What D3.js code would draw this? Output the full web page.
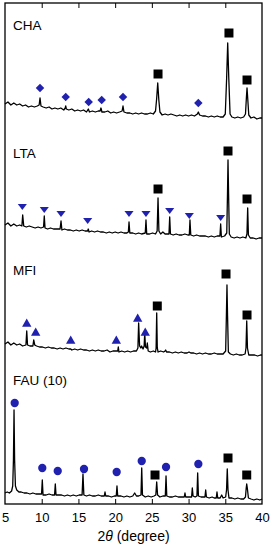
<!DOCTYPE html>
<html>
<head>
<meta charset="utf-8">
<script src="https://cdn.jsdelivr.net/npm/d3@7"></script>
<style>
  body { margin: 0; background: #fff; }
  svg { display: block; font-family: "Liberation Sans", Arial, sans-serif; }
</style>
</head>
<body>
<div id="xrd"></div>
<script>
// XRD patterns, [2theta, intensity] (arbitrary units, each pattern sits on its own offset)
const chaTrace = [[5,15],[5.4,17],[5.8,14],[6.2,16],[6.6,14],[7,15],[7.4,13],[7.8,14],[8.2,12],[8.6,13],[9,12],[9.4,13],[9.65,14],[9.77,21],[9.9,13],[10.2,12],[10.6,11],[11,12],[11.4,10],[11.8,11],[12.2,10],[12.6,11],[13.0,9],[13.2,11],[13.27,13],[13.35,10],[13.7,9],[14.1,10],[14.5,8],[14.9,9],[15.3,8],[15.7,9],[16.1,7],[16.35,10],[16.5,7],[16.9,8],[17.3,7],[17.7,8],[17.95,8],[18.07,11],[18.2,7],[18.6,7],[19,8],[19.4,6],[19.8,7],[20.2,6],[20.6,7],[20.95,8],[21.07,13],[21.2,7],[21.6,6],[22,6],[22.4,5],[22.8,6],[23.2,5],[23.6,6],[24,5],[24.4,5],[24.8,6],[25.2,5],[25.5,8],[25.65,20],[25.8,36],[25.95,19],[26.1,7],[26.4,4],[26.8,5],[27.2,4],[27.6,5],[28,4],[28.4,3],[28.8,4],[29.2,3],[29.6,4],[30,3],[30.4,4],[30.8,3],[31.2,5],[31.33,7],[31.5,4],[31.9,3],[32.3,3],[32.7,2],[33.1,3],[33.5,2],[33.9,3],[34.3,2],[34.7,2],[35.0,5],[35.18,40],[35.33,76],[35.48,40],[35.65,5],[35.9,2],[36.3,1],[36.7,2],[37.1,1],[37.5,2],[37.75,5],[37.88,22],[37.96,31],[38.06,20],[38.2,4],[38.5,1],[38.9,2],[39.3,0],[39.7,1],[40,1]];

const ltaTrace = [[5,14],[5.4,16],[5.8,13],[6.2,15],[6.6,13],[7,14],[7.3,13],[7.41,24],[7.55,13],[7.9,12],[8.3,13],[8.7,12],[9.1,11],[9.5,12],[9.9,11],[10.25,12],[10.35,23],[10.45,11],[10.8,10],[11.2,11],[11.6,10],[12,10],[12.5,10],[12.63,18],[12.75,9],[13.1,10],[13.5,9],[13.9,9],[14.3,8],[14.7,9],[15.1,8],[15.5,9],[15.9,8],[16.25,8],[16.34,10],[16.45,7],[16.8,8],[17.2,7],[17.6,8],[18,7],[18.4,7],[18.8,6],[19.2,7],[19.6,6],[20,7],[20.4,6],[20.8,7],[21.2,6],[21.6,6],[21.8,7],[21.89,17],[22,6],[22.4,6],[22.8,5],[23.2,6],[23.6,5],[24.1,6],[24.2,19],[24.3,5],[24.7,5],[25.1,6],[25.5,5],[25.72,8],[25.84,41],[25.96,8],[26.2,5],[26.5,7],[26.8,5],[27.33,5],[27.43,22],[27.53,5],[27.9,4],[28.3,5],[28.7,4],[29.1,4],[29.5,5],[29.9,4],[30.1,4],[30.19,19],[30.3,4],[30.7,3],[31.1,4],[31.5,3],[31.9,3],[32.3,3],[32.7,2],[33.1,3],[33.5,2],[33.9,3],[34.27,3],[34.37,15],[34.47,2],[34.9,3],[35.2,6],[35.3,45],[35.37,79],[35.45,45],[35.55,5],[35.8,2],[36.2,1],[36.6,2],[37,1],[37.4,2],[37.8,1],[37.95,5],[38.05,31],[38.15,4],[38.4,1],[38.8,1],[39.2,0],[39.6,1],[40,1]];

const mfiTrace = [[5,12],[5.4,14],[5.8,11],[6.2,13],[6.6,11],[7,12],[7.4,10],[7.85,11],[7.96,25],[8.07,11],[8.4,10],[8.8,10],[8.91,16],[9.05,11],[9.3,10],[9.7,9],[10.1,9],[10.5,8],[10.9,9],[11.3,8],[11.7,8],[12.1,7],[12.5,8],[12.9,7],[13.3,8],[13.7,7],[13.95,7],[14.1,6],[14.5,7],[14.9,6],[15.3,7],[15.7,6],[16.1,6],[16.5,5],[16.9,6],[17.3,5],[17.7,6],[18.1,5],[18.5,5],[18.9,6],[19.3,4],[19.7,5],[20.1,5],[20.35,5],[20.43,9],[20.52,4],[20.9,5],[21.3,4],[21.7,5],[22.1,4],[22.5,5],[22.9,5],[23.1,8],[23.2,33],[23.33,10],[23.5,8],[23.6,10],[23.8,7],[23.95,10],[24.03,23],[24.13,9],[24.3,8],[24.38,13],[24.5,5],[24.8,4],[25.2,5],[25.5,4],[25.58,8],[25.66,43],[25.74,8],[25.85,4],[26.2,5],[26.6,4],[26.8,5],[26.88,6],[27,4],[27.4,4],[27.8,3],[28.2,4],[28.6,3],[29,4],[29.4,3],[29.8,3],[30.06,4],[30.3,3],[30.7,3],[31.1,2],[31.5,3],[31.9,2],[32.3,3],[32.7,2],[33.1,2],[33.5,3],[33.9,2],[34.3,2],[34.7,2],[35.05,5],[35.15,40],[35.23,71],[35.31,40],[35.42,4],[35.7,2],[36.1,1],[36.5,2],[36.9,1],[37.3,1],[37.7,2],[37.82,8],[37.92,35],[38.02,8],[38.2,1],[38.6,1],[39,1],[39.4,0],[39.8,1],[40,1]];

const fauTrace = [[5,7],[5.3,8],[5.6,7],[5.9,9],[6.05,14],[6.15,40],[6.23,90],[6.31,40],[6.42,14],[6.6,10],[6.9,8],[7.2,8],[7.6,7],[8,7],[8.4,6],[8.8,7],[9.2,6],[9.6,6],[9.98,6],[10.08,20],[10.18,5],[10.6,5],[11,6],[11.4,5],[11.75,5],[11.85,16],[11.95,5],[12.3,5],[12.7,5],[13.1,4],[13.5,5],[13.9,4],[14.3,5],[14.7,4],[15.1,5],[15.5,5],[15.62,26],[15.74,5],[16.1,4],[16.5,5],[16.9,4],[17.3,4],[17.7,5],[18.1,4],[18.52,4],[18.62,8],[18.72,4],[19.1,4],[19.5,3],[19.9,4],[20.15,4],[20.25,14],[20.35,4],[20.8,4],[21.2,3],[21.6,4],[22,3],[22.4,4],[22.66,7],[22.9,4],[23.2,4],[23.52,5],[23.62,32],[23.72,5],[24.1,3],[24.5,4],[24.9,3],[25.3,4],[25.54,5],[25.66,18],[25.78,5],[26.1,3],[26.5,4],[26.83,4],[26.93,24],[27.03,4],[27.4,3],[27.8,3],[28.2,4],[28.6,3],[29,3],[29.41,3],[29.51,7],[29.61,3],[30,3],[30.41,3],[30.51,12],[30.61,4],[30.9,3],[31.14,4],[31.24,27],[31.34,4],[31.7,3],[32.23,3],[32.33,10],[32.43,3],[32.8,2],[33.2,3],[33.5,2],[33.77,2],[33.87,8],[33.97,2],[34.3,2],[34.51,5],[34.7,2],[35.05,3],[35.17,10],[35.27,31],[35.37,10],[35.5,2],[35.9,2],[36.3,1],[36.7,2],[37.1,1],[37.5,1],[37.75,3],[37.85,12],[37.92,16],[38.0,12],[38.15,2],[38.5,1],[38.9,0],[39.3,1],[39.7,0],[40,1]];

// zeolite reflections (blue) and alumina reflections (black squares), [2theta, marker height]
const chaDiamonds = [[9.77,31],[13.27,22],[16.4,17],[18.17,19],[21.07,22],[31.33,16]];
const chaSquares = [[25.84,45],[35.5,86],[37.96,39]];
const ltaTriangles = [[7.36,33],[10.35,30],[12.63,26],[16.26,19],[21.89,26],[24.2,26],[27.43,29],[30.1,24],[34.37,22]];
const ltaSquares = [[25.84,50],[35.37,88],[37.96,40]];
const mfiTriangles = [[7.96,32],[9.18,23],[13.95,15],[20.16,15],[23.07,37],[24.1,23]];
const mfiSquares = [[25.74,50],[35.1,82],[37.96,41]];
const fauCircles = [[6.32,97],[10.08,32],[12.18,29],[15.76,31],[20.21,28],[23.62,39],[26.93,33],[31.33,36]];
const fauSquares = [[25.43,25],[35.37,42],[37.92,25]];

const panelNames = ["CHA", "LTA", "MFI", "FAU (10)"];
const panelOffsets = [385, 265, 148, 4];
const xTicks = [5, 10, 15, 20, 25, 30, 35, 40];

// Dimensions
const margin = {top: 3, right: 11, bottom: 46, left: 5},
      width = 273 - margin.left - margin.right,
      height = 550 - margin.top - margin.bottom;

const svg = d3.select("#xrd")
    .append("svg")
    .attr("width", width + margin.left + margin.right)
    .attr("height", height + margin.top + margin.bottom)
    .append("g")
    .attr("transform", `translate(${margin.left},${margin.top})`);

const x = d3.scaleLinear().domain([5, 40]).range([0, width]);
const y = d3.scaleLinear().domain([0, height]).range([height, 0]);

const blue = "#2121b0";

// Axes with inward ticks
const xAxis = svg.append("g")
    .attr("transform", `translate(0,${height})`)
    .call(d3.axisBottom(x).tickValues(xTicks).tickSize(-5).tickPadding(9).tickSizeOuter(0));
xAxis.select(".domain").remove();
xAxis.selectAll(".tick line").filter(d => d === 5 || d === 40).remove();
xAxis.selectAll("text").attr("font-size", 13).attr("font-family", "Liberation Sans, Arial, sans-serif");

svg.append("g")
    .call(d3.axisTop(x).tickValues(xTicks.slice(1, -1)).tickSize(-5).tickFormat(""))
    .select(".domain").remove();

svg.append("rect")
    .attr("width", width).attr("height", height)
    .attr("fill", "none").attr("stroke", "black").attr("stroke-width", 1.3);

// x-axis label
const xLabel = svg.append("text")
    .attr("x", width / 2)
    .attr("y", height + 37)
    .attr("text-anchor", "middle")
    .attr("font-size", 14);
xLabel.append("tspan").text("2");
xLabel.append("tspan").attr("font-style", "italic").text("\u03B8");
xLabel.append("tspan").text(" (degree)");

const line = d3.line()
    .x(d => x(d[0]))
    .y(d => y(d[1]));

const traces = [chaTrace, ltaTrace, mfiTrace, fauTrace];
traces.forEach((t, i) => {
    svg.append("path")
        .datum(t.map(d => [d[0], d[1] + panelOffsets[i]]))
        .attr("fill", "none")
        .attr("stroke", "black")
        .attr("stroke-width", 1.3)
        .attr("stroke-linejoin", "round")
        .attr("d", line);
});

// Panel names
const labelY = [27, 155, 272, 382];
panelNames.forEach((name, i) => {
    svg.append("text")
        .attr("x", 8).attr("y", labelY[i])
        .attr("font-size", 13.5)
        .text(name);
});

// Markers
function drawMarkers(data, offset, type, fill, rotate, sy) {
    const sym = d3.symbol().type(type.t).size(type.s);
    svg.selectAll(null)
        .data(data)
        .enter()
        .append("path")
        .attr("d", sym)
        .attr("fill", fill)
        .attr("transform", d => `translate(${x(d[0])},${y(d[1] + offset)}) rotate(${rotate}) scale(1,${sy})`);
}

drawMarkers(chaDiamonds, panelOffsets[0], {t: d3.symbolSquare, s: 36}, blue, 45, 1);
drawMarkers(ltaTriangles, panelOffsets[1], {t: d3.symbolTriangle, s: 36}, blue, 180, 0.75);
drawMarkers(mfiTriangles, panelOffsets[2], {t: d3.symbolTriangle, s: 38}, blue, 0, 1);
drawMarkers(fauCircles, panelOffsets[3], {t: d3.symbolCircle, s: 54}, blue, 0, 1);

[chaSquares, ltaSquares, mfiSquares, fauSquares].forEach((sq, i) => {
    drawMarkers(sq, panelOffsets[i], {t: d3.symbolSquare, s: 81}, "black", 0, 1);
});
</script>
</body>
</html>
